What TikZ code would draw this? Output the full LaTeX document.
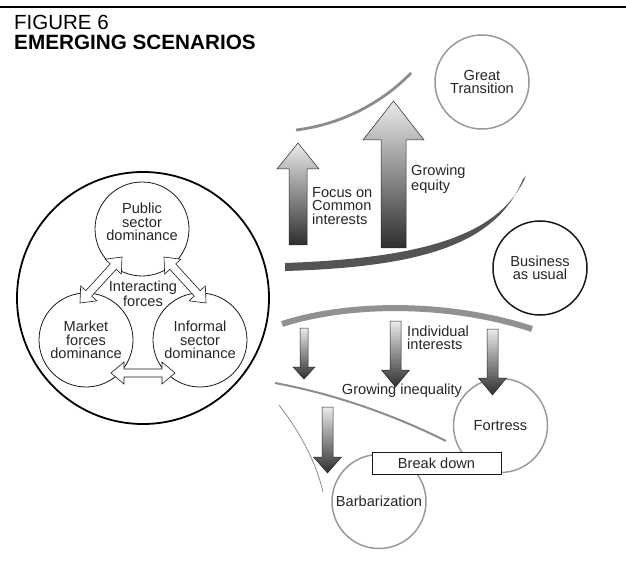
\documentclass[tikz,border=0pt]{standalone}
\usepackage{fontspec}
\setmainfont{Liberation Sans}
\usetikzlibrary{calc}

\tikzset{
  txt/.style={text=black!85, font=\fontsize{14.6}{13.3}\selectfont, inner sep=0pt, align=center},
  sector/.style={circle, draw=black!90, line width=0.8pt, minimum size=94pt, inner sep=0pt},
  scenario/.style={circle, draw=black!40, line width=1.5pt, minimum size=94pt, txt},
  hollow/.style={draw=black!90, fill=white, line width=0.6pt},
  flow/.style={draw=black!85, line width=0.5pt, top color=black!8, bottom color=black!82},
}

% shaded block arrow: x, tail y, head base y, tip y, half shaft, half head
\newcommand\gradarrow[6]{%
  \draw[flow] (#1-#5,#2) -- (#1-#5,#3) -- (#1-#6,#3) -- (#1,#4)
    -- (#1+#6,#3) -- (#1+#5,#3) -- (#1+#5,#2) -- cycle;}

% open double headed arrow between two named points
\newcommand\twoway[2]{%
  \draw[hollow] let \p1=(#1), \p2=(#2),
      \n1={atan2(\y2-\y1,\x2-\x1)}, \n2={veclen(\x2-\x1,\y2-\y1)} in
    [shift={(\p1)}, rotate=\n1]
    (0pt,0pt) -- (13pt,11pt) -- (13pt,4pt) -- ({\n2*1pt-13pt},4pt)
    -- ({\n2*1pt-13pt},11pt) -- ({\n2*1pt},0pt) -- ({\n2*1pt-13pt},-11pt)
    -- ({\n2*1pt-13pt},-4pt) -- (13pt,-4pt) -- (13pt,-11pt) -- cycle;}

\begin{document}
\begin{tikzpicture}[x=1pt,y=-1pt]
    \useasboundingbox (0,0) rectangle (626,577);
    % heading
    \draw[line width=1.5pt] (0,7) -- (626,7);
    \node[anchor=base west, inner sep=0pt, font=\fontsize{20.5}{24}\selectfont] (fig) at (14,29.5) {FIGURE 6};
    \node[anchor=base west, inner sep=0pt, font=\fontsize{20.7}{24}\selectfont\bfseries] (title) at (14,50) {EMERGING SCENARIOS};

    % the three sectors
    \node[circle, draw=black, line width=1.8pt, minimum size=252pt] (world) at (143,298) {};
    \node[sector] (pub) at (142,229) {};
    \node[txt] (pubtxt) at (142,222) {Public\\sector\\dominance};
    \node[sector, txt] (mkt) at (86,340) {Market\\forces\\dominance};
    \node[sector, txt] (inf) at (200,340) {Informal\\sector\\dominance};
    \node[txt] (forces) at (143,294) {Interacting\\forces};
    \coordinate (mk1) at (80,303);
    \coordinate (pb1) at (122,257);
    \coordinate (in1) at (206,303);
    \coordinate (pb2) at (164,257);
    \coordinate (mk2) at (111,373);
    \coordinate (in2) at (175,373);
    \twoway{mk1}{pb1}
    \twoway{in1}{pb2}
    \twoway{mk2}{in2}

    % towards the great transition
    \draw[line width=2.8pt, black!45] (296,130) .. controls (345,124) and (385,100) .. (411,73);
    \gradarrow{298}{245}{169}{143}{9}{21}
    \gradarrow{393.5}{248}{140}{101}{12.5}{30.5}
    \node[txt, anchor=west, align=left] (focus) at (312,206) {Focus on\\Common\\interests};
    \node[txt, anchor=west, align=left] (equity) at (411,179) {Growing\\equity};
    \node[scenario] (gt) at (482,82) {Great\\Transition};

    % business as usual
    \fill[black!67] (285,263) .. controls (425,258) and (500,235) .. (526,176)
        -- (523,179) .. controls (497,243) and (425,267) .. (285,271) -- cycle;
    \node[scenario, draw=black!90] (bau) at (540,268) {Business\\as usual};

    % towards fortress and barbarization
    \draw[line width=6pt, black!43] (282,324) .. controls (350,302) and (450,302) .. (532,329);
    \draw[line width=2pt, black!45] (275,383) .. controls (340,395) and (400,418) .. (446,441);
    \draw[line width=0.8pt, black!45] (279,405) .. controls (300,432) and (316,462) .. (323,492);
    \node[scenario] (fort) at (500.5,425.5) {Fortress};
    \node[scenario] (barb) at (379,501.5) {Barbarization};
    \gradarrow{304}{328}{367}{379}{4}{11}
    \gradarrow{395.5}{321}{370}{387}{5.5}{14}
    \gradarrow{492.5}{329}{378}{395}{5.5}{14}
    \gradarrow{327.5}{407}{457}{473}{5.5}{14}
    \node[txt, anchor=west, align=left] (indiv) at (407,338) {Individual\\interests};
    \node[txt] (ineq) at (402,391) {Growing inequality};
    \node[txt, draw=black!90, fill=white, line width=0.8pt, minimum width=129pt, minimum height=22pt] (brk) at (436.5,463) {Break down};
\end{tikzpicture}
\end{document}
